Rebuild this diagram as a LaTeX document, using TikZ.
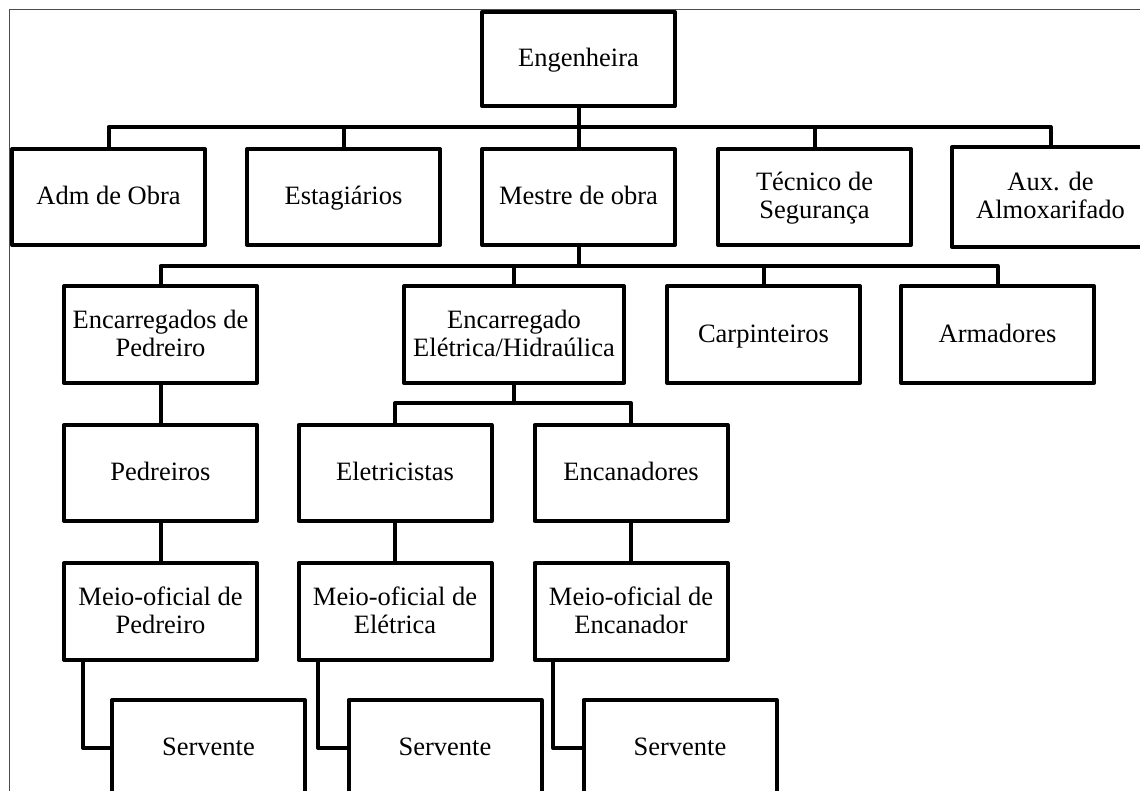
\documentclass[tikz,border=0pt]{standalone}
\usepackage{fontspec}
\setmainfont{Liberation Serif}
\newcommand{\topstrut}{\rule{0pt}{25pt}}
\newcommand{\botstrut}{\rule[-9pt]{0pt}{9pt}}
\begin{document}
\begin{tikzpicture}[x=1pt,y=-1pt,
  box/.style={draw=black, line width=4pt, line join=round, rectangle, inner sep=0pt,
    minimum width=193pt, minimum height=96pt, align=center,
    font=\fontsize{26.5}{28}\selectfont},
  one/.style={box, text height=18.5pt, text depth=3.5pt},
  link/.style={draw=black, line width=4pt, line join=round}]
\useasboundingbox (0,0) rectangle (1140,791);
\clip (0,0) rectangle (1140,791);
\fill[white] (0,0) rectangle (1140,791);
\draw[gray!60!black, line width=1pt] (9.5,795) -- (9.5,9.5) -- (1145,9.5);
% level 0
\node[one, minimum height=94pt] (eng) at (578.5,59) {Engenheira};
% level 1
\node[one] (adm) at (108.5,197) {Adm de Obra};
\node[one] (est) at (343.5,197) {Estagiários};
\node[one] (mes) at (578.5,197) {Mestre de obra};
\node[box] (tec) at (814.5,197) {\topstrut Técnico de\\Segurança\botstrut};
\node[box, draw=none, minimum width=193pt] (aux) at (1050.5,197) {\topstrut Aux. de\\Almoxarifado\botstrut};
\draw[link] ([xshift=60pt]aux.north east) -- (aux.north west) -- (aux.south west) -- ([xshift=60pt]aux.south east);
\coordinate (bus1) at (578.5,127);
\draw[link] (eng.south) -- (mes.north);
\draw[link] (adm.north) |- (bus1) -| (aux.north);
\draw[link] (est.north) -- (est.north |- bus1);
\draw[link] (tec.north) -- (tec.north |- bus1);
% level 2
\node[box, minimum height=97pt] (encp) at (160.5,334.5) {\topstrut Encarregados de\\Pedreiro\botstrut};
\node[box, minimum height=97pt, minimum width=220pt] (ence) at (514,334.5) {\topstrut Encarregado\\Elétrica/Hidraúlica\botstrut};
\node[one, minimum height=97pt] (carp) at (763.5,334.5) {Carpinteiros};
\node[one, minimum height=97pt] (arm) at (997.5,334.5) {Armadores};
\coordinate (bus2) at (578.5,266);
\draw[link] (mes.south) -- (bus2);
\draw[link] (encp.north) |- (bus2) -| (arm.north);
\draw[link] (ence.north) -- (ence.north |- bus2);
\draw[link] (carp.north) -- (carp.north |- bus2);
% level 3
\node[one] (ped) at (160.5,473) {Pedreiros};
\node[one] (ele) at (395,473) {Eletricistas};
\node[one] (enc) at (631,473) {Encanadores};
\coordinate (bus3) at (514,403);
\draw[link] (encp.south) -- (ped.north);
\draw[link] (ence.south) -- (bus3);
\draw[link] (ele.north) |- (bus3) -| (enc.north);
% level 4
\node[box, minimum height=97pt] (mp) at (160.5,611.5) {\topstrut Meio-oficial de\\Pedreiro\botstrut};
\node[box, minimum height=97pt] (me) at (395,611.5) {\topstrut Meio-oficial de\\Elétrica\botstrut};
\node[box, minimum height=97pt] (mc) at (631,611.5) {\topstrut Meio-oficial de\\Encanador\botstrut};
\draw[link] (ped.south) -- (mp.north);
\draw[link] (ele.south) -- (me.north);
\draw[link] (enc.south) -- (mc.north);
% level 5
\node[one] (sp) at (208.5,748) {Servente};
\node[one] (se) at (445,748) {Servente};
\node[one] (sc) at (680,748) {Servente};
\draw[link] ([xshift=-77.5pt]mp.south) |- (sp.west);
\draw[link] ([xshift=-77pt]me.south) |- (se.west);
\draw[link] ([xshift=-78pt]mc.south) |- (sc.west);
\end{tikzpicture}
\end{document}
